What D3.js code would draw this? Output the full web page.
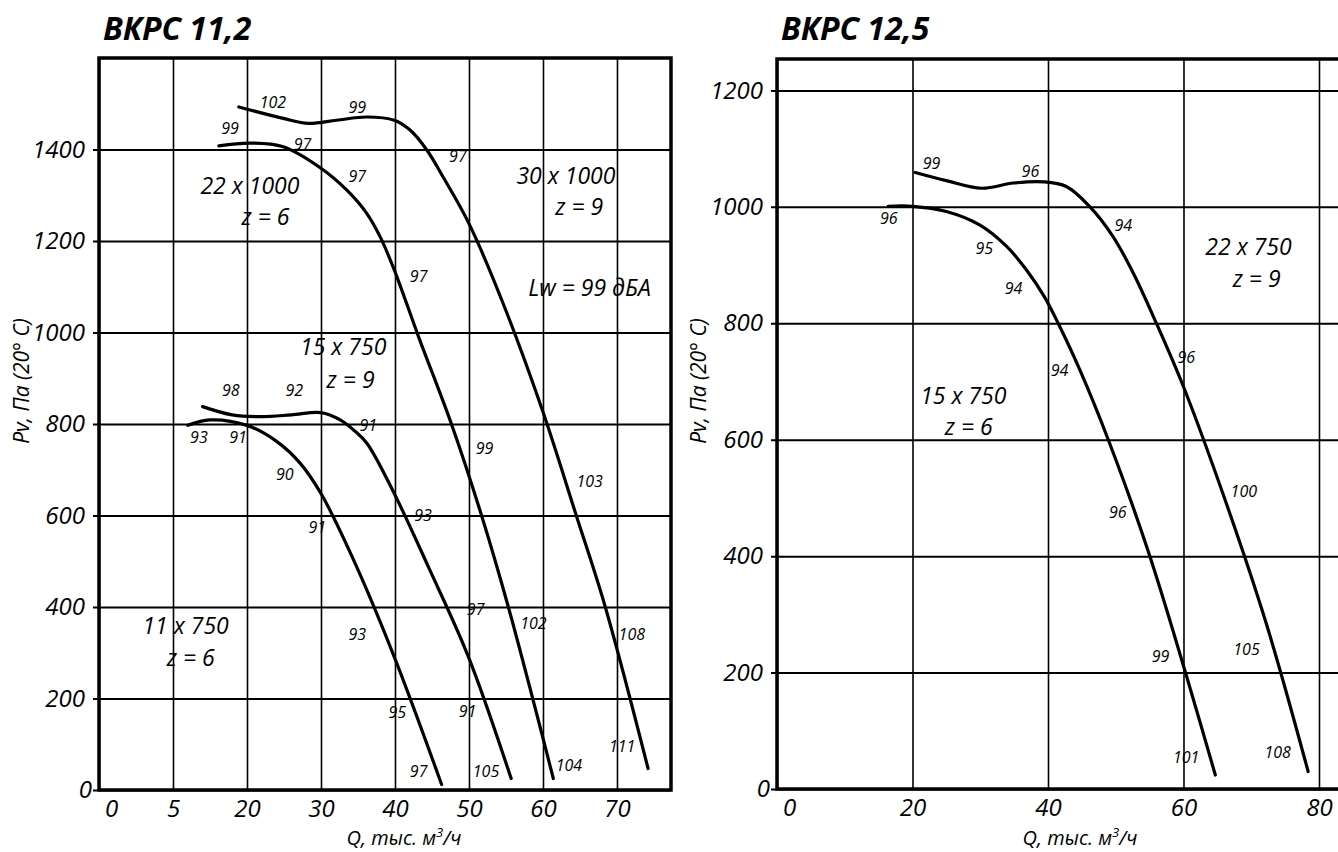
<!DOCTYPE html>
<html>
<head>
<meta charset="utf-8">
<title>ВКРС 11,2 / ВКРС 12,5</title>
<script src="https://d3js.org/d3.v7.min.js"></script>
<style>
  body { margin: 0; background: #fff; }
  svg text { font-family: "Open Sans", sans-serif; font-style: italic; fill: #000; }
</style>
</head>
<body>
<svg id="chart" width="1338" height="852"></svg>
<script>
// ---- ВКРС 11,2 ----
var leftXTicks = [0, 10, 20, 30, 40, 50, 60, 70];
var leftXLabels = ["0", "5", "20", "30", "40", "50", "60", "70"];
var leftYTicks = [0, 200, 400, 600, 800, 1000, 1200, 1400];

var c11x750 = [[12,797],[15,809],[20,797],[24,762],[27.2,714],[30,648],[34.4,503],[39.9,291],[46.3,12]];
var c15x750 = [[14,838],[18,820],[22,816],[26,820],[30,825],[32.6,809],[34.4,787],[36.2,758],[39.9,648],[44.7,481],[49.9,292],[55.7,25]];
var c22x1000 = [[16.2,1408],[20.4,1414],[24.9,1406],[30,1359],[33.5,1311],[36.2,1260],[38,1209],[39.9,1137],[43.2,990],[47.65,799],[51.7,600],[55.3,401],[61.4,25]];
var c30x1000 = [[18.9,1493],[24.9,1468],[28.3,1457],[32.1,1464],[36.2,1471],[39.9,1464],[42,1443],[44.3,1399],[46.5,1340],[50,1238],[54.6,1064],[59.9,831],[64.5,600],[68.4,401],[74.2,47]];

// noise level labels: [text, Q, Pv]
var leftNoise = [["102",23.5,1504],["99",34.9,1493],["99",17.7,1446],["97",27.5,1412],["97",34.9,1341],
  ["97",48.5,1386],["97",43.2,1123],["98",17.8,873],["92",26.4,873],["91",36.4,797],["93",13.5,771],
  ["91",18.8,771],["90",25.1,691],["99",52.1,746],["103",66.3,675],["91",29.5,575],["93",43.8,600],
  ["97",50.9,395],["102",58.7,364],["93",34.9,341],["108",72,341],["95",40.3,171],["91",49.8,172],
  ["111",70.7,95],["97",43.2,40],["105",52.3,40],["104",63.5,55]];
var leftNames = [["22 x 1000",20.4,1321],["z = 6",22.5,1252],["30 x 1000",63.1,1343],["z = 9",64.9,1274],
  ["Lw = 99 дБА",66.3,1097],["15 x 750",33,968],["z = 9",34,897],["11 x 750",11.7,360],["z = 6",12.4,289]];

// ---- ВКРС 12,5 ----
var rightXTicks = [0, 20, 40, 60, 80];
var rightXLabels = ["0", "20", "40", "60", "80"];
var rightYTicks = [0, 200, 400, 600, 800, 1000, 1200];

var c22x750 = [[20.4,1059],[25,1045],[30.2,1032],[34.9,1041],[39.3,1043],[42.7,1035],[46.2,1000],[49.6,949],[52.6,886],[56,800],[60,691],[65.8,508],[72.2,285],[78.4,30]];
var c15x750r = [[16.4,1001],[20,1001],[25,992],[29.9,969],[33.9,932],[36.8,892],[39.5,845],[41.5,800],[44.7,720],[48.9,600],[55,401],[64.7,24]];

var rightNoise = [["99",22.8,1075],["96",37.4,1062],["96",16.5,980],["94",51.1,969],["95",30.6,929],
  ["94",34.9,860],["94",41.7,720],["96",60.4,742],["96",50.3,475],["100",68.9,512],["99",56.6,228],
  ["105",69.3,240],["101",60.4,55],["108",73.9,63]];
var rightNames = [["22 x 750",69.6,932],["z = 9",70.8,877],["15 x 750",27.5,675],["z = 6",28.3,622]];

var svg = d3.select("#chart");

function drawPanel(p) {
  var g = svg.append("g");
  var x = d3.scaleLinear().domain(p.xDomain).range([p.left, p.right]);
  var y = d3.scaleLinear().domain(p.yDomain).range([p.bottom, p.top]);

  // horizontal grid + y labels
  var ya = g.append("g").attr("transform", "translate(" + p.left + ",0)")
    .call(d3.axisLeft(y).tickValues(p.yTicks).tickFormat(d3.format("d"))
      .tickSize(-(p.right - p.left)).tickPadding(14));
  ya.select(".domain").remove();
  ya.selectAll("line").attr("x1", -6).attr("stroke", "#000").attr("stroke-width", 2);
  ya.selectAll("text").attr("font-size", 24).attr("font-family", null)
    .attr("dx", function(d) { return d === 0 ? 7 : 0; });

  // vertical grid + x labels
  var xa = g.append("g").attr("transform", "translate(0," + p.bottom + ")")
    .call(d3.axisBottom(x).tickValues(p.xTicks).tickFormat(function(d, i) { return p.xLabels[i]; })
      .tickSize(-(p.bottom - p.top)).tickPadding(10));
  xa.select(".domain").remove();
  xa.selectAll("line").attr("stroke", "#000").attr("stroke-width", 1.6);
  xa.selectAll("text").attr("font-size", 24).attr("font-family", null)
    .attr("dx", function(d) { return d === 0 ? 12 : 0; });

  // frame
  g.append("rect").attr("x", p.left).attr("y", p.top)
    .attr("width", p.right - p.left).attr("height", p.bottom - p.top)
    .attr("fill", "none").attr("stroke", "#000").attr("stroke-width", 3.5);

  var line = d3.line().x(function(d) { return x(d[0]); }).y(function(d) { return y(d[1]); })
    .curve(d3.curveCatmullRom.alpha(0.5));
  g.selectAll(".curve").data(p.curves).enter().append("path")
    .attr("d", line).attr("fill", "none").attr("stroke", "#000")
    .attr("stroke-width", 3.2).attr("stroke-linecap", "round");

  g.selectAll(".noise").data(p.noise).enter().append("text")
    .attr("x", function(d) { return x(d[1]); }).attr("y", function(d) { return y(d[2]); })
    .attr("text-anchor", "middle").attr("dy", "0.36em").attr("font-size", 16)
    .text(function(d) { return d[0]; });

  g.selectAll(".name").data(p.names).enter().append("text")
    .attr("x", function(d) { return x(d[1]); }).attr("y", function(d) { return y(d[2]); })
    .attr("text-anchor", "middle").attr("dy", "0.36em").attr("font-size", 23)
    .text(function(d) { return d[0]; });

  g.append("text").attr("x", p.left + 4).attr("y", 40)
    .attr("font-size", 32).attr("font-weight", "bold").text(p.title);

  g.append("text").attr("transform", "translate(" + p.yTitleX + ",381) rotate(-90)")
    .attr("text-anchor", "middle").attr("dy", "0.35em").attr("font-size", 21)
    .text("Pv, Па (20° С)");

  var xt = g.append("text").attr("x", p.xTitleX).attr("y", 845)
    .attr("text-anchor", "middle").attr("font-size", 20);
  xt.append("tspan").text("Q, тыс. м");
  xt.append("tspan").attr("dy", -8).attr("font-size", 13).text("3");
  xt.append("tspan").attr("dy", 8).text("/ч");
}

drawPanel({
  title: "ВКРС 11,2", left: 99, right: 671, top: 58, bottom: 790,
  xDomain: [0, 77.3], yDomain: [0, 1600],
  xTicks: leftXTicks, xLabels: leftXLabels, yTicks: leftYTicks,
  curves: [c11x750, c15x750, c22x1000, c30x1000],
  noise: leftNoise, names: leftNames, yTitleX: 22, xTitleX: 404
});

drawPanel({
  title: "ВКРС 12,5", left: 777, right: 1345, top: 59, bottom: 789,
  xDomain: [0, 83.84], yDomain: [0, 1254],
  xTicks: rightXTicks, xLabels: rightXLabels, yTicks: rightYTicks,
  curves: [c22x750, c15x750r],
  noise: rightNoise, names: rightNames, yTitleX: 699, xTitleX: 1080
});
</script>
</body>
</html>
